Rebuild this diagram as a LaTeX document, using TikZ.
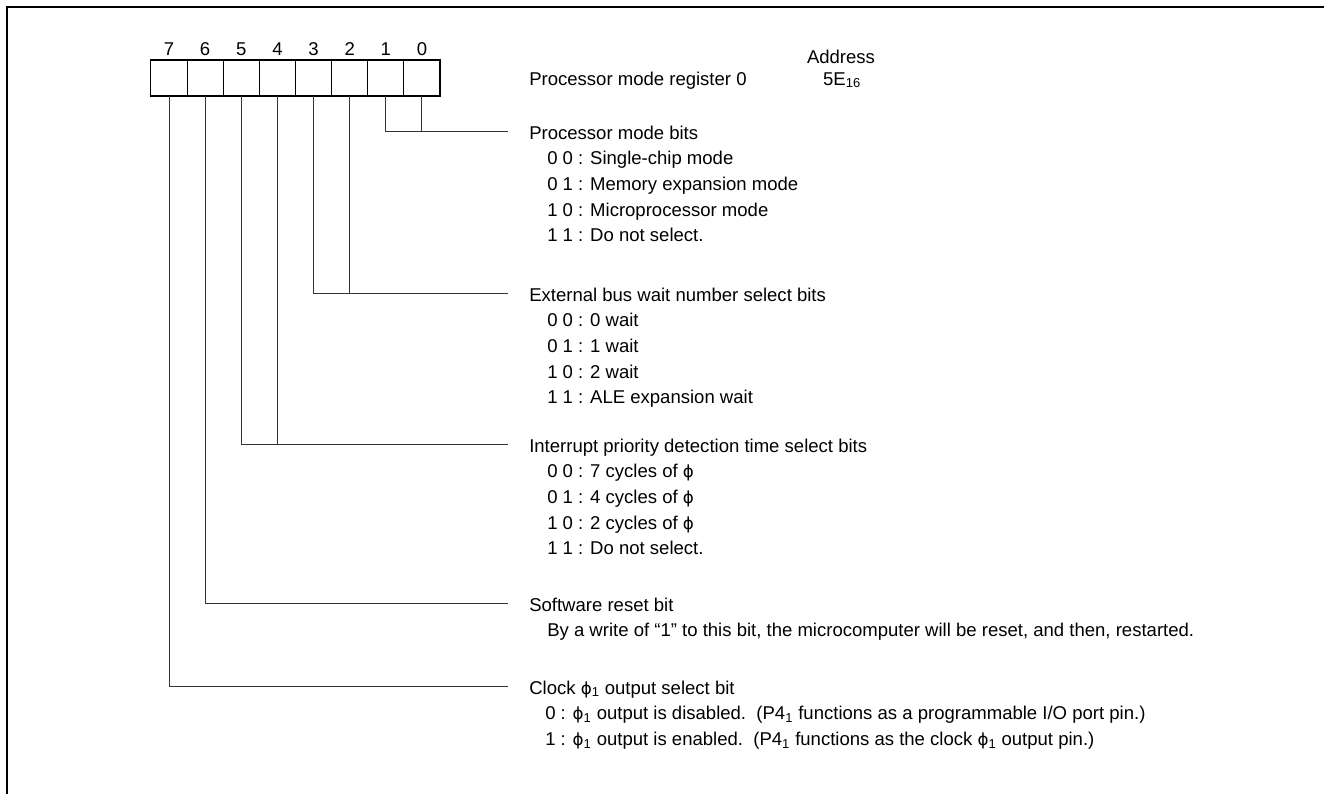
\documentclass[tikz,border=0pt]{standalone}
\usepackage{fontspec}
\setmainfont{Liberation Sans}
\newfontfamily\phifont{DejaVu Sans}
\usetikzlibrary{positioning}
\newcommand{\phiglyph}{{\phifont\fontsize{12.5}{14}\selectfont ϕ}}
\newcommand{\phione}{\phiglyph\textsubscript{1}}

\begin{document}
\begin{tikzpicture}[x=0.75pt,y=-0.75pt,node distance=0pt,font=\fontsize{13.9}{17}\selectfont]
    \tikzset{regcell/.style={draw,line width=0.8pt,minimum width=27.1pt,minimum height=27pt,
      inner sep=0pt,outer sep=0pt},
      bitnum/.style={inner sep=0pt,text height=9.75pt,text depth=0pt},
      fieldhead/.style={anchor=west,inner xsep=15.75pt,inner ysep=0pt,text height=12pt,text depth=0pt},
      fieldopt/.style={anchor=base west,inner sep=0pt},
      leader/.style={black!80,line width=0.75pt}}
    \useasboundingbox (0,0) rectangle (1324,794);
    \draw[line width=2pt] (7,794) -- (7,7) -- (1324,7);
    % register cells, bit 7 .. bit 0
    \node[regcell] (b7) at (169,78) {};
    \foreach \b [remember=\b as \prev (initially 7)] in {6,...,0}
      \node[regcell,right=of b\prev] (b\b) {};
    \foreach \b in {7,...,0}
      \node[bitnum,above=3pt of b\b] (n\b) {\b};
    \node[fieldopt] (regname) at (529,85) {Processor mode register 0};
    \node[fieldopt,anchor=base] (addr) at (841,63) {Address};
    \node[fieldopt,anchor=base] (addrval) at (842,85) {5E\textsubscript{16}};
    % bit fields
    \node[fieldhead] (pmb) at (508,131) {Processor mode bits};
    \foreach \t [count=\k] in {0 0 : Single-chip mode,0 1 : Memory expansion mode,
      1 0 : Microprocessor mode,1 1 : Do not select.}
      \node[fieldopt] (pmb\k) at (547,{139+25.7*\k}) {\t};
    \node[fieldhead] (ebw) at (508,293) {External bus wait number select bits};
    \foreach \t [count=\k] in {0 0 : 0 wait,0 1 : 1 wait,1 0 : 2 wait,1 1 : ALE expansion wait}
      \node[fieldopt] (ebw\k) at (547,{301+25.7*\k}) {\t};
    \node[fieldhead] (ipd) at (508,444) {Interrupt priority detection time select bits};
    \foreach \t [count=\k] in {0 0 : 7 cycles of \phiglyph,0 1 : 4 cycles of \phiglyph,
      1 0 : 2 cycles of \phiglyph,1 1 : Do not select.}
      \node[fieldopt] (ipd\k) at (547,{452+25.7*\k}) {\t};
    \node[fieldhead] (srb) at (508,603) {Software reset bit};
    \node[fieldopt] (srb1) at (547,636.7) {By a write of “1” to this bit, the microcomputer will be reset, and then, restarted.};
    \node[fieldhead] (clk) at (508,686) {Clock \phione\ output select bit};
    \node[fieldopt] (clk1) at (545,719.7) {0 : \phione\ output is disabled.\ \ (P4\textsubscript{1} functions as a programmable I/O port pin.)};
    \node[fieldopt] (clk2) at (545,745.4) {1 : \phione\ output is enabled.\ \ (P4\textsubscript{1} functions as the clock \phione\ output pin.)};
    % leaders
    \draw[leader] (b1.south) |- (pmb.west);
    \draw[leader] (b0.south) -- (b0.south |- pmb.west);
    \draw[leader] (b3.south) |- (ebw.west);
    \draw[leader] (b2.south) -- (b2.south |- ebw.west);
    \draw[leader] (b5.south) |- (ipd.west);
    \draw[leader] (b4.south) -- (b4.south |- ipd.west);
    \draw[leader] (b6.south) |- (srb.west);
    \draw[leader] (b7.south) |- (clk.west);
  \end{tikzpicture}
\end{document}
